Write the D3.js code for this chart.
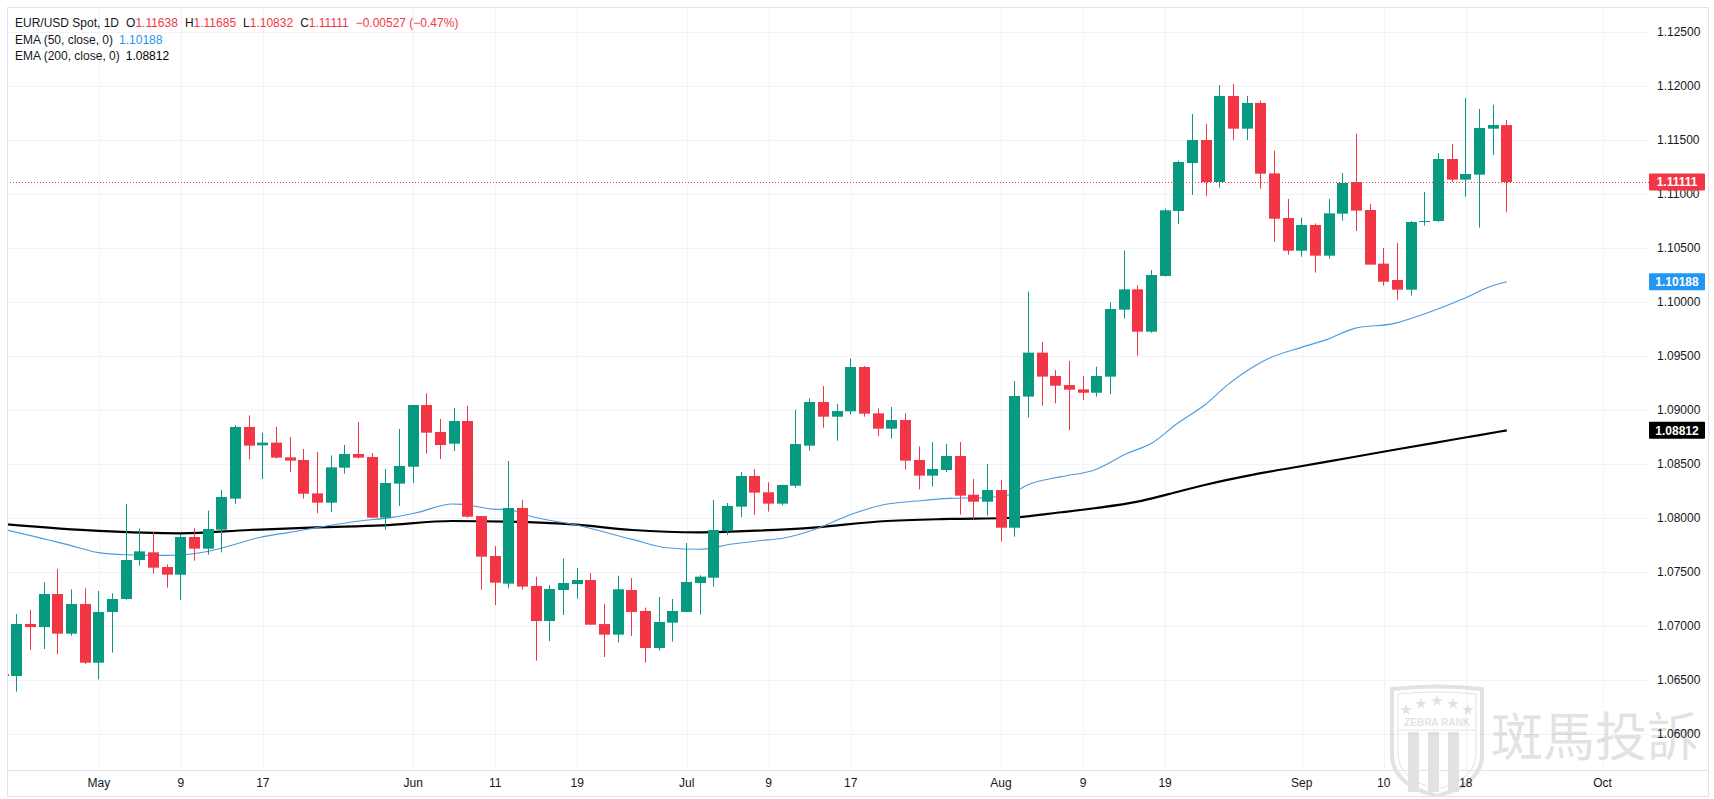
<!DOCTYPE html>
<html>
<head>
<meta charset="utf-8">
<script src="https://d3js.org/d3.v7.min.js"></script>
<style>
  html, body { margin: 0; padding: 0; background: #fff; }
  svg { display: block; font-family: "Liberation Sans", Arial, sans-serif; }
</style>
</head>
<body>
<svg id="chart" width="1714" height="799"></svg>
<script>
// EUR/USD Spot, daily bars (22 Apr 2024 - 23 Sep 2024)
var dates = ["2024-04-22","2024-04-23","2024-04-24","2024-04-25","2024-04-26","2024-04-29","2024-04-30",
  "2024-05-01","2024-05-02","2024-05-03","2024-05-06","2024-05-07","2024-05-08","2024-05-09","2024-05-10",
  "2024-05-13","2024-05-14","2024-05-15","2024-05-16","2024-05-17","2024-05-20","2024-05-21","2024-05-22",
  "2024-05-23","2024-05-24","2024-05-27","2024-05-28","2024-05-29","2024-05-30","2024-05-31",
  "2024-06-03","2024-06-04","2024-06-05","2024-06-06","2024-06-07","2024-06-10","2024-06-11","2024-06-12",
  "2024-06-13","2024-06-14","2024-06-17","2024-06-18","2024-06-19","2024-06-20","2024-06-21","2024-06-24",
  "2024-06-25","2024-06-26","2024-06-27","2024-06-28",
  "2024-07-01","2024-07-02","2024-07-03","2024-07-04","2024-07-05","2024-07-08","2024-07-09","2024-07-10",
  "2024-07-11","2024-07-12","2024-07-15","2024-07-16","2024-07-17","2024-07-18","2024-07-19","2024-07-22",
  "2024-07-23","2024-07-24","2024-07-25","2024-07-26","2024-07-29","2024-07-30","2024-07-31",
  "2024-08-01","2024-08-02","2024-08-05","2024-08-06","2024-08-07","2024-08-08","2024-08-09","2024-08-12",
  "2024-08-13","2024-08-14","2024-08-15","2024-08-16","2024-08-19","2024-08-20","2024-08-21","2024-08-22",
  "2024-08-23","2024-08-26","2024-08-27","2024-08-28","2024-08-29","2024-08-30",
  "2024-09-02","2024-09-03","2024-09-04","2024-09-05","2024-09-06","2024-09-09","2024-09-10","2024-09-11",
  "2024-09-12","2024-09-13","2024-09-16","2024-09-17","2024-09-18","2024-09-19","2024-09-20","2024-09-23"];

var open = [1.06555,1.06537,1.07019,1.0699,1.07296,1.06929,1.07204,
  1.0666,1.0713,1.0725,1.07611,1.07682,1.07546,1.07475,1.07824,
  1.07716,1.07892,1.08179,1.08843,1.08673,1.08698,1.08562,1.08537,
  1.08228,1.08142,1.08466,1.08593,1.08565,1.08003,1.08318,
  1.08475,1.09046,1.08796,1.08688,1.08898,1.08018,1.07648,1.07392,
  1.08093,1.07371,1.07046,1.07333,1.07389,1.07426,1.07018,1.0692,
  1.07333,1.07139,1.06796,1.07031,
  1.0713,1.07398,1.07447,1.07879,1.08105,1.08389,1.08238,1.08133,
  1.08299,1.0867,1.09074,1.08938,1.08988,1.09398,1.08969,1.08827,
  1.08907,1.08537,1.08392,1.08444,1.08574,1.08216,1.08151,
  1.08259,1.0791,1.09124,1.09531,1.09315,1.09231,1.09191,1.0916,
  1.09309,1.09929,1.10117,1.09725,1.10241,1.10843,1.11287,1.115,
  1.11111,1.11907,1.11605,1.11843,1.11191,1.10778,
  1.10475,1.10713,1.10429,1.10818,1.11111,1.10852,1.10355,1.10204,
  1.10114,1.10741,1.1075,1.11324,1.11133,1.11179,1.11605,1.11638];

var high = [1.0672,1.07111,1.0715,1.07404,1.07528,1.07339,1.07349,
  1.07324,1.07303,1.0813,1.07904,1.07873,1.07571,1.07843,1.07904,
  1.08068,1.08259,1.08861,1.0895,1.0879,1.08843,1.0875,1.08639,
  1.08611,1.0858,1.08676,1.08889,1.08602,1.08454,1.08824,
  1.09046,1.09154,1.08917,1.09019,1.0904,1.08018,1.0774,1.08528,
  1.08167,1.07457,1.0738,1.07624,1.07537,1.07491,1.07204,1.07466,
  1.07444,1.0717,1.07269,1.0725,
  1.07769,1.0747,1.08167,1.08139,1.08426,1.08454,1.0833,1.08306,
  1.09003,1.09108,1.09222,1.09055,1.09478,1.09407,1.09015,1.09028,
  1.08969,1.08663,1.08704,1.08685,1.08704,1.08361,1.085,
  1.08352,1.09268,1.10096,1.0963,1.0937,1.09454,1.09315,1.09401,
  1.09997,1.10475,1.10154,1.10296,1.10864,1.11308,1.11741,1.11648,
  1.12009,1.12018,1.11907,1.11864,1.11401,1.10954,
  1.10781,1.10728,1.10954,1.11194,1.11559,1.10907,1.105,1.10546,
  1.1075,1.11019,1.1138,1.11463,1.11889,1.11787,1.11827,1.11685];

var low = [1.0624,1.06392,1.06778,1.06787,1.06738,1.0691,1.0665,
  1.06506,1.06753,1.07244,1.07559,1.07484,1.07355,1.07241,1.07605,
  1.07661,1.07682,1.0813,1.08543,1.08361,1.0855,1.08426,1.08179,
  1.08046,1.08055,1.0841,1.0855,1.08003,1.07892,1.08111,
  1.08324,1.08596,1.08546,1.0862,1.08003,1.07336,1.07194,1.07349,
  1.07336,1.06679,1.06861,1.07102,1.07253,1.07012,1.06713,1.06846,
  1.06907,1.06661,1.06772,1.06855,
  1.0713,1.07105,1.07364,1.07843,1.08009,1.08028,1.08059,1.08117,
  1.08281,1.08623,1.08836,1.08716,1.08957,1.08938,1.08759,1.08735,
  1.08448,1.08265,1.0829,1.08426,1.08031,1.07991,1.08022,
  1.07781,1.07827,1.08932,1.0904,1.09062,1.08815,1.09093,1.09123,
  1.09145,1.09846,1.09503,1.09716,1.10235,1.10722,1.10991,1.10981,
  1.11059,1.115,1.115,1.11049,1.10559,1.10438,
  1.1042,1.10272,1.10401,1.10753,1.10657,1.10346,1.10151,1.10021,
  1.10059,1.10707,1.1074,1.11111,1.10975,1.10688,1.11361,1.10832];

var close = [1.06537,1.07019,1.0699,1.07296,1.06929,1.07204,1.0666,
  1.0713,1.0725,1.07611,1.07691,1.0754,1.07475,1.07824,1.07716,
  1.07898,1.08194,1.08843,1.0867,1.08698,1.08559,1.08531,1.08225,
  1.08142,1.08469,1.08593,1.08559,1.08003,1.08324,1.08482,
  1.09046,1.0879,1.08676,1.08898,1.08012,1.07642,1.07401,1.08093,
  1.07365,1.07046,1.07343,1.07398,1.07426,1.07012,1.0692,1.0734,
  1.0713,1.06796,1.07037,1.07139,
  1.07408,1.07457,1.07889,1.08111,1.08389,1.08235,1.08133,1.08306,
  1.08685,1.09074,1.08938,1.0899,1.09398,1.08966,1.08827,1.08907,
  1.08531,1.08392,1.08454,1.08574,1.08207,1.08151,1.08259,
  1.0791,1.0913,1.09531,1.09309,1.09225,1.09188,1.0916,1.09315,
  1.09935,1.10117,1.09725,1.1025,1.10849,1.11296,1.115,1.11111,
  1.11907,1.11605,1.11843,1.11188,1.10771,1.10475,
  1.10713,1.10429,1.10821,1.11102,1.10846,1.10346,1.10188,1.10114,
  1.10741,1.1075,1.11324,1.11133,1.11185,1.11611,1.11639,1.11111];

// EMA readings (bar position in the dates list, value)
var ema50Bar = [0.25,4.64,6.98,8.95,11.95,14.95,16.78,18.75,20.95,26.07,28.48,30.24,32.87,33.6,36.09,36.82,
  38.72,41.94,46.04,48.53,50.94,53.35,55.33,57.02,59.5,61.92,64.33,66.82,69.23,71.65,73.47,74.93,77.42,
  79.84,82.25,84.01,85.91,87.89,89.57,91.55,92.49,94.98,96.88,98.86,101.78,103.76,106.9,108.88,110];
var ema50 = [1.07889,1.07756,1.07679,1.0766,1.07654,1.0769,1.0775,1.0782,1.07867,1.07972,1.08006,1.08049,1.0813,1.08126,1.0808,1.0808,
  1.08012,1.07935,1.07802,1.07725,1.0771,1.07759,1.0779,1.07812,1.07901,1.08028,1.0812,1.08157,1.08182,1.08188,1.0821,1.08306,1.08383,
  1.08445,1.08599,1.08692,1.08877,1.09046,1.09232,1.09407,1.09472,1.0958,1.09654,1.09756,1.09802,1.0988,1.10034,1.10148,1.10188];
var ema200Bar = [0.25,6.98,12.97,18.02,22.92,27.75,32.87,36.82,41.94,46.04,50.94,54.6,59.5,64.33,69.23,73.47,
  77.42,79.84,82.98,85.18,87.89,91.55,94.83,98.49,102.1,105.8,108.0,110];
var ema200 = [1.07941,1.0788,1.07858,1.07889,1.07914,1.07932,1.07972,1.07966,1.07938,1.07889,1.07867,1.0788,1.07914,1.0797,1.07991,1.08,
  1.08053,1.0809,1.08151,1.08219,1.08306,1.08404,1.08477,1.08558,1.08639,1.0872,1.08768,1.08812];

var tickLabels = ["May","9","17","Jun","11","19","Jul","9","17","Aug","9","19","Sep","10","18","Oct"];
var tickBars = [7,13,19,30,36,42,50,56,62,73,79,85,95,101,107,117];
var priceTicks = [1.06,1.065,1.07,1.075,1.08,1.085,1.09,1.095,1.1,1.105,1.11,1.115,1.12,1.125];

var legendTitle = "EUR/USD Spot, 1D";
var changeText = "\u22120.00527 (\u22120.47%)";

var UP = "#089981", DOWN = "#f23645", EMA50C = "#2196f3", GRID = "#f0f3fa", TXT = "#131722";

var svg = d3.select("#chart");
var frame = {l: 7, t: 7, r: 1709, b: 797};
var plot = {l: 7, t: 7, r: 1649, b: 770};

var x = d3.scaleLinear().domain([1, 110]).range([16.8, 16.8 + 109 * 13.67]);
var y = d3.scaleLinear().domain([1.06, 1.125]).range([734, 32]);

svg.append("rect").attr("width", 1714).attr("height", 799).attr("fill", "#fff");

var defs = svg.append("defs");
defs.append("clipPath").attr("id", "plotClip").append("rect")
  .attr("x", plot.l).attr("y", plot.t).attr("width", plot.r - plot.l).attr("height", plot.b - plot.t);
defs.append("clipPath").attr("id", "frameClip").append("rect")
  .attr("x", frame.l).attr("y", frame.t).attr("width", frame.r - frame.l).attr("height", frame.b - frame.t);

// grid
var grid = svg.append("g");
grid.selectAll(".hg").data(priceTicks).enter().append("line")
  .attr("x1", plot.l).attr("x2", plot.r)
  .attr("y1", function(d) { return Math.round(y(d)) + 0.5; })
  .attr("y2", function(d) { return Math.round(y(d)) + 0.5; })
  .attr("stroke", GRID);
grid.selectAll(".vg").data(tickBars).enter().append("line")
  .attr("y1", plot.t).attr("y2", plot.b)
  .attr("x1", function(d) { return Math.round(x(d)) + 0.5; })
  .attr("x2", function(d) { return Math.round(x(d)) + 0.5; })
  .attr("stroke", GRID);

// watermark
var wm = svg.append("g").attr("clip-path", "url(#frameClip)").attr("opacity", 0.11);
var shield = wm.append("g").attr("transform", "translate(1392,687)");
var shieldPath = "M0,2 Q45,-3 90,2 L90,70 Q88,98 45,109 Q2,98 0,70 Z";
shield.append("path").attr("d", shieldPath).attr("fill", "none").attr("stroke", "#000").attr("stroke-width", 4);
shield.append("path").attr("d", "M6,7 Q45,3 84,7 L84,69 Q82,93 45,102 Q8,93 6,69 Z")
  .attr("fill", "none").attr("stroke", "#000").attr("stroke-width", 1);
var star = d3.symbol().type(d3.symbolStar).size(42);
[[14,23],[29,17],[45,14],[61,17],[76,23]].forEach(function(p) {
  shield.append("path").attr("d", star()).attr("transform", "translate(" + p[0] + "," + p[1] + ")").attr("fill", "#000");
});
shield.append("text").attr("x", 45).attr("y", 39).attr("text-anchor", "middle")
  .attr("font-size", 10).attr("font-weight", "bold").attr("fill", "#000").text("ZEBRA RANK");
shield.append("line").attr("x1", 6).attr("x2", 84).attr("y1", 43).attr("y2", 43).attr("stroke", "#000");
[16, 36, 56].forEach(function(sx) {
  shield.append("rect").attr("x", sx).attr("y", 45).attr("width", 11).attr("height", 60).attr("fill", "#000");
});
wm.append("text").attr("x", 1491).attr("y", 756)
  .attr("font-family", "'Noto Sans CJK TC','Noto Sans CJK SC',sans-serif")
  .attr("font-size", 52).attr("fill", "#000").text("斑馬投訴");

// EMA lines
var chartG = svg.append("g").attr("clip-path", "url(#plotClip)");
var line = d3.line().curve(d3.curveMonotoneX)
  .x(function(d) { return x(d[0]); }).y(function(d) { return y(d[1]); });
chartG.append("path").datum(d3.zip(ema200Bar, ema200)).attr("d", line)
  .attr("fill", "none").attr("stroke", "#000").attr("stroke-width", 2.2);
chartG.append("path").datum(d3.zip(ema50Bar, ema50)).attr("d", line)
  .attr("fill", "none").attr("stroke", "#4a9ae0").attr("stroke-width", 1.1);

// candles
var bars = dates.map(function(d, i) {
  return {i: i, o: open[i], h: high[i], l: low[i], c: close[i]};
});
var cg = chartG.selectAll(".candle").data(bars).enter().append("g");
cg.append("line")
  .attr("x1", function(d) { return Math.round(x(d.i) - 5.5) + 5.5; })
  .attr("x2", function(d) { return Math.round(x(d.i) - 5.5) + 5.5; })
  .attr("y1", function(d) { return y(d.h); })
  .attr("y2", function(d) { return y(d.l); })
  .attr("stroke", function(d) { return d.c >= d.o ? UP : DOWN; })
  .attr("stroke-width", 1);
cg.append("rect")
  .attr("x", function(d) { return Math.round(x(d.i) - 5.5); })
  .attr("width", 11)
  .attr("y", function(d) { return y(Math.max(d.o, d.c)); })
  .attr("height", function(d) { return Math.max(1, Math.abs(y(d.o) - y(d.c))); })
  .attr("fill", function(d) { return d.c >= d.o ? UP : DOWN; });

// last price dotted line
var last = close[close.length - 1];
svg.append("line").attr("x1", plot.l).attr("x2", plot.r)
  .attr("y1", Math.round(y(last)) + 0.5).attr("y2", Math.round(y(last)) + 0.5)
  .attr("stroke", DOWN).attr("stroke-dasharray", "1,2");

// frame and axis separators
svg.append("line").attr("x1", frame.l).attr("x2", frame.r).attr("y1", plot.b + 0.5).attr("y2", plot.b + 0.5)
  .attr("stroke", "#e0e3eb");
svg.append("rect").attr("x", frame.l + 0.5).attr("y", frame.t + 0.5)
  .attr("width", frame.r - frame.l - 1).attr("height", frame.b - frame.t - 1)
  .attr("fill", "none").attr("stroke", "#e0e3eb");

// price axis
svg.append("g").selectAll("text").data(priceTicks).enter().append("text")
  .attr("x", 1657).attr("y", function(d) { return y(d); })
  .attr("dy", "0.35em").attr("font-size", 12).attr("fill", TXT)
  .text(function(d) { return d3.format(".5f")(d); });

// time axis
svg.append("g").selectAll("text").data(tickLabels).enter().append("text")
  .attr("x", function(d, i) { return x(tickBars[i]); }).attr("y", 783)
  .attr("dy", "0.35em").attr("text-anchor", "middle").attr("font-size", 12).attr("fill", TXT)
  .text(function(d) { return d; });

// price labels
var tags = [
  {v: last, bg: DOWN},
  {v: ema50[ema50.length - 1], bg: EMA50C},
  {v: ema200[ema200.length - 1], bg: "#000"}
];
var tg = svg.append("g").selectAll("g").data(tags).enter().append("g");
tg.append("rect").attr("x", 1649).attr("width", 56).attr("height", 17).attr("rx", 1)
  .attr("y", function(d) { return y(d.v) - 8.5; }).attr("fill", function(d) { return d.bg; });
tg.append("text").attr("x", 1677).attr("y", function(d) { return y(d.v); })
  .attr("dy", "0.35em").attr("text-anchor", "middle").attr("font-size", 12).attr("font-weight", "bold")
  .attr("fill", "#fff").text(function(d) { return d3.format(".5f")(d.v); });

// legend
var n = close.length - 1;
var leg = svg.append("g").attr("font-size", 12);
var l1 = leg.append("text").attr("x", 15).attr("y", 23).attr("dy", "0.35em").attr("fill", TXT);
l1.append("tspan").text(legendTitle);
[["O", open[n]], ["H", high[n]], ["L", low[n]], ["C", close[n]]].forEach(function(p) {
  l1.append("tspan").attr("dx", 7).text(p[0]);
  l1.append("tspan").attr("fill", DOWN).text(d3.format(".5f")(p[1]));
});
l1.append("tspan").attr("dx", 7).attr("fill", DOWN).text(changeText);
var l2 = leg.append("text").attr("x", 15).attr("y", 40).attr("dy", "0.35em").attr("fill", TXT);
l2.append("tspan").text("EMA (50, close, 0)");
l2.append("tspan").attr("dx", 6).attr("fill", EMA50C).text(d3.format(".5f")(ema50[ema50.length - 1]));
var l3 = leg.append("text").attr("x", 15).attr("y", 56).attr("dy", "0.35em").attr("fill", TXT);
l3.append("tspan").text("EMA (200, close, 0)");
l3.append("tspan").attr("dx", 6).attr("fill", "#000").text(d3.format(".5f")(ema200[ema200.length - 1]));
</script>
</body>
</html>
